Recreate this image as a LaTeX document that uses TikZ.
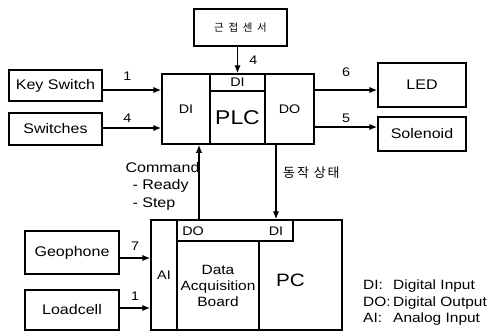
\documentclass[tikz,border=0pt]{standalone}
\usepackage{fontspec}
\setmainfont{Liberation Sans}[FakeStretch=1.15]
\newfontfamily\kofont{Noto Sans CJK KR}[LetterSpace=15]
\newfontfamily\kowide{Noto Sans CJK KR}[LetterSpace=45]
\usetikzlibrary{arrows.meta, calc, positioning}

\tikzset{
  blk/.style={draw, line width=1.5bp, inner sep=0pt, font=\fontsize{14}{17}\selectfont},
  tag/.style={font=\fontsize{12.5}{15}\selectfont, inner sep=0pt},
  num/.style={font=\fontsize{12.5}{15}\selectfont, inner sep=0pt},
  arr/.style={line width=1.5bp, -{Latex[length=8bp,width=6.5bp]}},
  lgd/.style={anchor=west, inner sep=0pt, font=\fontsize{13.5}{17}\selectfont},
}

\begin{document}
\begin{tikzpicture}[x=1bp, y=-1bp]
  \useasboundingbox (0,0) rectangle (495,332);

  % sensor on top
  \node[blk, minimum width=93bp, minimum height=37bp] (sensor) at (240.5,27.5)
  {\fontsize{10.5}{12}\kowide 근접센서};

  % PLC block
  \node[blk, tag, minimum width=48bp, minimum height=70bp] (plcdi) at (186,109) {DI};
  \node[blk, tag, minimum width=55bp, minimum height=17bp] (plcin) at (237.5,82.5) {DI};
  \node[blk, font=\fontsize{20}{24}\selectfont, minimum width=55bp, minimum height=53bp] (plc) at (237.5,117.5) {PLC};
  \node[blk, tag, minimum width=49bp, minimum height=70bp] (plcdo) at (289.5,109) {DO};

  % inputs and outputs of the PLC
  \node[blk, minimum width=93bp, minimum height=31bp] (keysw) at (55.5,85.5) {Key Switch};
  \node[blk, minimum width=93bp, minimum height=32bp] (switches) at (55.5,129) {Switches};
  \node[blk, minimum width=88bp, minimum height=44bp] (led) at (422,85) {LED};
  \node[blk, minimum width=88bp, minimum height=34bp] (solenoid) at (422,134) {Solenoid};

  \draw[arr] (plcin.north |- sensor.south) -- (plcin.north)
  node[num, midway, right=11bp] {4};
  \draw[arr] ([yshift=-4.5bp]keysw.east) -- ([yshift=-4.5bp]keysw.east -| plcdi.west)
  node[num, pos=0.42, above=9bp] {1};
  \draw[arr] ([yshift=1bp]switches.east) -- ([yshift=1bp]switches.east -| plcdi.west)
  node[num, pos=0.42, above=5bp] {4};
  \draw[arr] ([yshift=19bp]plcdo.east) -- ([yshift=19bp]plcdo.east -| led.west)
  node[num, midway, above=13bp] {6};
  \draw[arr] ([yshift=-18bp]plcdo.east) -- ([yshift=-18bp]plcdo.east -| solenoid.west)
  node[num, midway, above=3.5bp] {5};

  % PC with the data acquisition board
  \node[blk, minimum width=83bp, minimum height=110bp,
    label={[font=\fontsize{18}{22}\selectfont, xshift=-10bp, yshift=-5bp]center:PC}] (pc) at (300.5,275) {};
  \node[blk, tag, minimum width=26bp, minimum height=110bp] (ai) at (164,275) {AI};
  \node[blk, fill=white, minimum width=116bp, minimum height=21bp] (daqio) at (235,230.5) {};
  \node[tag] (daqdo) at (193,231) {DO};
  \node[tag] (daqdi) at (276,231) {DI};
  \node[blk, align=center, font=\fontsize{13.5}{16}\selectfont, minimum width=82bp, minimum height=89bp] (dab) at (218,285.5)
  {Data\\Acquisition\\Board};

  % sensors on the left
  \node[blk, minimum width=94bp, minimum height=43bp] (geophone) at (72,252.5) {Geophone};
  \node[blk, minimum width=94bp, minimum height=40bp] (loadcell) at (72,310) {Loadcell};

  \draw[arr] ([yshift=-5.5bp]geophone.east) -- ([yshift=-5.5bp]geophone.east -| ai.west)
  node[num, midway, above=6.5bp] {7};
  \draw[arr] ([yshift=2bp]loadcell.east) -- ([yshift=2bp]loadcell.east -| ai.west)
  node[num, midway, above=6.5bp] {1};

  % signals between PLC and PC
  \draw[arr] ([xshift=6bp]daqdo |- daqio.north) -- ([xshift=6bp]daqdo |- plcdi.south);
  \draw[arr] (daqdi |- plcdo.south) -- (daqdi |- daqio.north);
  \node[anchor=west, align=left, font=\fontsize{14}{17.5}\selectfont] (cmd) at (122,186)
  {Command\\\hspace*{7bp}- Ready\\\hspace*{7bp}- Step};
  \node[anchor=west, inner sep=0pt] (state) at (283,173) {\fontsize{13}{15}\kofont 동작 상태};

  % legend
  \node[lgd] (lgdi) at (363,286) {\makebox[30bp][l]{DI:}Digital Input};
  \node[lgd] (lgdo) at (363,303) {\makebox[30bp][l]{DO:\,}Digital Output};
  \node[lgd] (lgai) at (363,319) {\makebox[30bp][l]{AI:}Analog Input};
\end{tikzpicture}
\end{document}
